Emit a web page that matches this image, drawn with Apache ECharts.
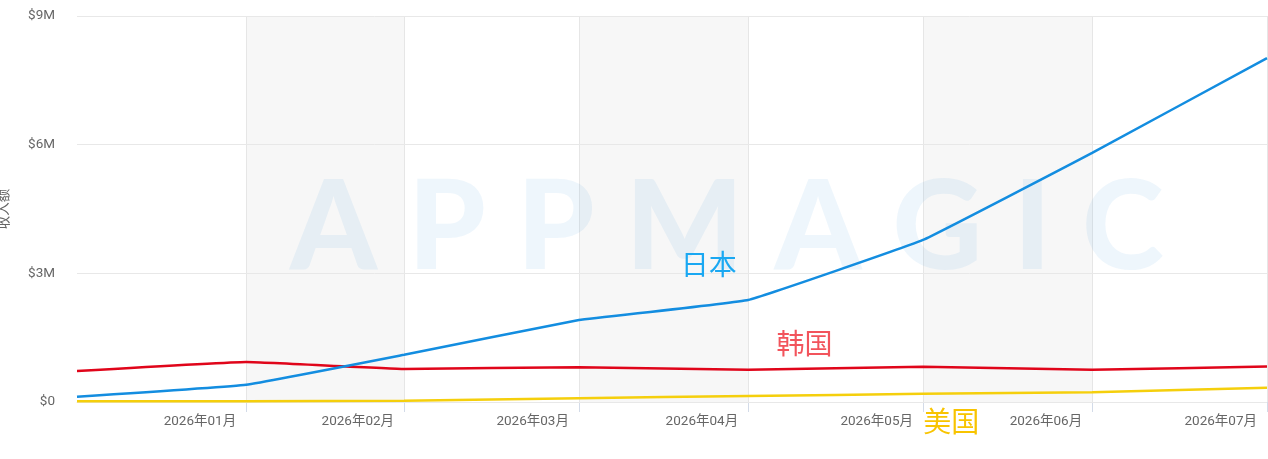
<html>
<head>
	<meta charset="UTF-8">
	<script src="https://cdn.jsdelivr.net/npm/echarts@6.0.0/dist/echarts.min.js"></script>
</head>
<body style="margin:0;">
<div id="chart" style="width:1268px;height:459px;"></div>
<script type="text/javascript">
        // 数据点日期（每月一个点）
        var dates = ['2026-01-02', '2026-02-01', '2026-03-01', '2026-04-01', '2026-05-01', '2026-06-01', '2026-07-01', '2026-08-01']
        // 收入额，单位美元
        var japan = [120000, 400000, 1100000, 1910000, 2380000, 3780000, 5810000, 8020000]
        var korea = [720000, 930000, 770000, 810000, 750000, 820000, 750000, 830000]
        var usa = [20000, 20000, 30000, 90000, 140000, 190000, 230000, 330000]

        // x轴刻度（月末）和对应的标签
        var tickDates = ['2026-02-01', '2026-03-01', '2026-04-01', '2026-05-01', '2026-06-01', '2026-07-01', '2026-08-01']
        var monthLabels = ['2026年01月', '2026年02月', '2026年03月', '2026年04月', '2026年05月', '2026年06月', '2026年07月']
        var yTickValues = [0, 3000000, 6000000, 9000000]
        var yTickLabels = ['$0', '$3M', '$6M', '$9M']

        // 系列名称标注的位置（数据坐标）
        var japanTag = ['2026-04-24', 3220000]
        var koreaTag = ['2026-05-11', 1376000]
        var usaTag = ['2026-06-06', 0]

        // 日期 -> 距 2026-01-01 的天数，x轴用数值轴
        function day(s) {
            var p = s.split('-')
            return Math.round((Date.UTC(+p[0], +p[1] - 1, +p[2]) - Date.UTC(2026, 0, 1)) / 86400000)
        }
        function pairs(vals) {
            var out = []
            for (var i = 0; i < dates.length; i++) {
                out.push([day(dates[i]), vals[i]])
            }
            return out
        }
        var tickDays = tickDates.map(day)

        function tag(name, pos, color, offset) {
            return {
                symbol: 'circle',
                symbolSize: 0,
                silent: true,
                data: [{
                    coord: [day(pos[0]), pos[1]],
                    label: {
                        show: true,
                        position: 'inside',
                        formatter: name,
                        fontSize: 28,
                        color: color,
                        offset: offset || [0, 0],
                        fontFamily: 'Noto Sans CJK SC'
                    }
                }]
            }
        }

        var myChart = echarts.init(document.getElementById('chart'));

        var gap = '\u2009\u200a\u200a'
        var option = {
            animation: false,
            backgroundColor: '#ffffff',
            textStyle: { fontFamily: 'Roboto, "Noto Sans CJK SC", sans-serif' },
            grid: { left: 77, right: 1, top: 16, bottom: 57, containLabel: false, outerBoundsMode: 'none' },
            graphic: [{
                type: 'text',
                z: 1,
                silent: true,
                left: 290,
                top: 167,
                style: {
                    text: 'APPMAGIC'.split('').join(gap),
                    font: '900 124px Lato, "Open Sans", sans-serif',
                    fill: 'rgba(40,140,220,0.08)'
                }
            }],
            xAxis: {
                type: 'value',
                z: 0,
                min: day(dates[0]),
                max: day(dates[dates.length - 1]),
                axisLine: { show: true, lineStyle: { color: '#e6e6e6', width: 1 } },
                axisTick: {
                    show: true,
                    length: 10,
                    customValues: tickDays,
                    lineStyle: { color: '#d3dbe8' }
                },
                axisLabel: {
                    customValues: tickDays,
                    align: 'right',
                    padding: [0, 10, 0, 0],
                    margin: 13,
                    fontSize: 13.5,
                    color: '#666666',
                    formatter: function (v) {
                        var i = tickDays.indexOf(v)
                        return i >= 0 ? monthLabels[i] : ''
                    }
                },
                splitLine: { show: true, lineStyle: { color: '#e6e6e6' } },
                splitArea: { show: true, areaStyle: { color: ['#f7f7f7', 'rgba(255,255,255,0)'] } }
            },
            yAxis: {
                type: 'value',
                z: 1,
                min: 0,
                max: 9000000,
                interval: 3000000,
                name: '收入额',
                nameLocation: 'middle',
                nameGap: 66,
                nameTextStyle: { color: '#666666', fontSize: 13.5 },
                axisLine: { show: false },
                axisTick: { show: false },
                axisLabel: {
                    margin: 22,
                    fontSize: 13.5,
                    color: '#666666',
                    formatter: function (v) {
                        var i = yTickValues.indexOf(v)
                        return i >= 0 ? yTickLabels[i] : ''
                    }
                },
                splitLine: { show: true, lineStyle: { color: '#e8e8e8' } }
            },
            series: [
                {
                    name: '日本',
                    type: 'line',
                    data: pairs(japan),
                    showSymbol: false,
                    smooth: 0.08,
                    z: 4,
                    lineStyle: { color: '#138de0', width: 2.5 },
                    itemStyle: { color: '#138de0' },
                    markPoint: tag('日本', japanTag, '#1aa8f2')
                },
                {
                    name: '韩国',
                    type: 'line',
                    data: pairs(korea),
                    showSymbol: false,
                    smooth: 0.08,
                    z: 3,
                    lineStyle: { color: '#e0051a', width: 2.5 },
                    itemStyle: { color: '#e0051a' },
                    markPoint: tag('韩国', koreaTag, '#f2545c')
                },
                {
                    name: '美国',
                    type: 'line',
                    data: pairs(usa),
                    showSymbol: false,
                    smooth: 0.08,
                    z: 2,
                    lineStyle: { color: '#f5cf0c', width: 2.5 },
                    itemStyle: { color: '#f5cf0c' },
                    markPoint: tag('美国', usaTag, '#f8c400', [0, 19])
                }
            ]
        };

        myChart.setOption(option);
</script>
</body>
</html>
